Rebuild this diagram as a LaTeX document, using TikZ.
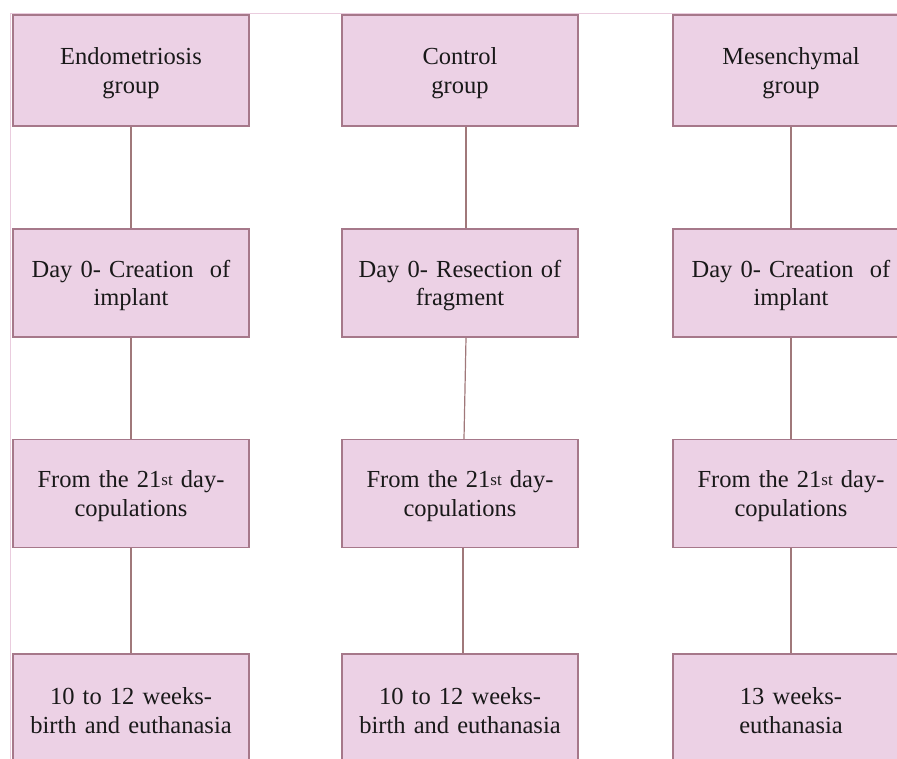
\documentclass[tikz,border=0pt]{standalone}
\usepackage{fontspec}
\setmainfont{Liberation Serif}

\definecolor{boxfill}{RGB}{236,209,229}
\definecolor{boxline}{RGB}{166,120,138}
\definecolor{linkline}{RGB}{160,120,122}
\definecolor{framepink}{RGB}{234,204,222}

\tikzset{
    stagebox/.style={draw=boxline, line width=1.3pt, fill=boxfill,
        minimum width=236pt, minimum height=108pt, text width=222pt,
        align=center, inner sep=0pt, text=black!90,
        font=\fontsize{24.5}{28.5}\selectfont,
        execute at begin node=\rule{0pt}{22pt}},
    link/.style={draw=linkline, line width=1.2pt}
}
\newcommand{\stsup}{\raisebox{2.5pt}{\fontsize{17}{17}\selectfont st}}

\begin{document}
\begin{tikzpicture}[x=1pt,y=-1pt]
        % Page
        \clip (0,0) rectangle (897,758);
        \fill[white] (0,0) rectangle (897,758);
        \draw[framepink, line width=1pt] (10,13) rectangle (930,790);

        % Endometriosis column
        \node[stagebox, minimum height=111pt] (endo1) at (131,70.5) {Endometriosis \\ group};
        \node[stagebox] (endo2) at (131,283) {Day 0- Creation\ \ of \\ implant};
        \node[stagebox] (endo3) at (131,493.5) {From the 21\stsup\ day- \\ copulations};
        \node[stagebox] (endo4) at (131,708) {10 to 12 weeks- \\ birth and euthanasia};

        % Control column
        \node[stagebox, minimum height=111pt] (ctrl1) at (460,70.5) {Control \\ group};
        \node[stagebox] (ctrl2) at (460,283) {Day 0- Resection of \\ fragment};
        \node[stagebox] (ctrl3) at (460,493.5) {From the 21\stsup\ day- \\ copulations};
        \node[stagebox] (ctrl4) at (460,708) {10 to 12 weeks- \\ birth and euthanasia};

        % Mesenchymal column
        \node[stagebox, minimum height=111pt] (mes1) at (791,70.5) {Mesenchymal \\ group};
        \node[stagebox] (mes2) at (791,283) {Day 0- Creation\ \ of \\ implant};
        \node[stagebox] (mes3) at (791,493.5) {From the 21\stsup\ day- \\ copulations};
        \node[stagebox] (mes4) at (791,708) {13 weeks- \\ euthanasia};

        % Links
        \draw[link] (endo1) -- (endo2);
        \draw[link] (endo2) -- (endo3);
        \draw[link] (endo3) -- (endo4);
        \draw[link] ([xshift=6pt]ctrl1.south) -- ([xshift=6pt]ctrl2.north);
        \draw[link] ([xshift=6pt]ctrl2.south) -- ([xshift=4pt]ctrl3.north);
        \draw[link] ([xshift=3pt]ctrl3.south) -- ([xshift=3pt]ctrl4.north);
        \draw[link] (mes1) -- (mes2);
        \draw[link] (mes2) -- (mes3);
        \draw[link] (mes3) -- (mes4);
    \end{tikzpicture}
\end{document}
